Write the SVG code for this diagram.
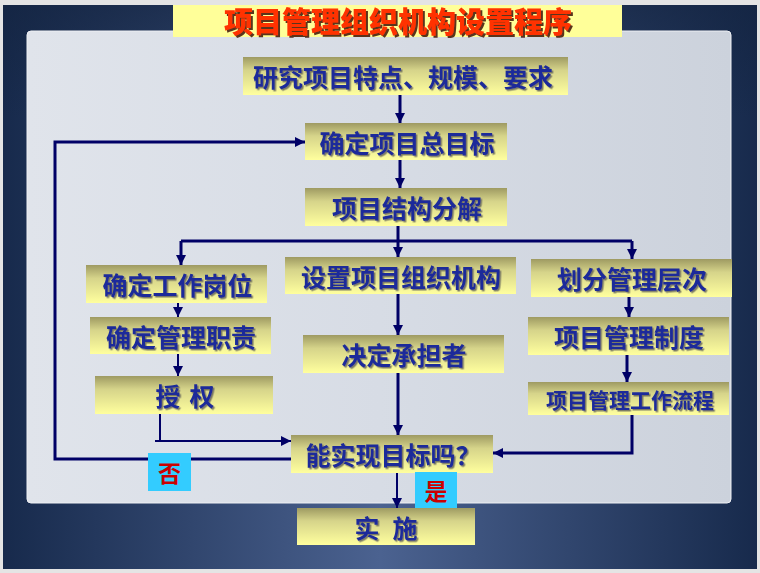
<svg xmlns="http://www.w3.org/2000/svg" width="760" height="573" viewBox="0 0 760 573">
<defs>
<linearGradient id="frame" x1="0" y1="0" x2="1" y2="0">
<stop offset="0" stop-color="#172a4c"/>
<stop offset="0.5" stop-color="#4b6290"/>
<stop offset="1" stop-color="#172a4c"/>
</linearGradient>
<linearGradient id="frameTop" x1="0" y1="0" x2="0" y2="1">
<stop offset="0" stop-color="#13233f" stop-opacity="0.6"/>
<stop offset="0.2" stop-color="#13233f" stop-opacity="0"/>
</linearGradient>
<linearGradient id="panel" x1="0" y1="0" x2="1" y2="0">
<stop offset="0" stop-color="#e0e4eb"/>
<stop offset="0.5" stop-color="#d7dce5"/>
<stop offset="1" stop-color="#ccd2dc"/>
</linearGradient>
<linearGradient id="box" x1="0" y1="0" x2="0" y2="1">
<stop offset="0" stop-color="#9e9a62"/>
<stop offset="0.35" stop-color="#d6d48a"/>
<stop offset="1" stop-color="#ffff9e"/>
</linearGradient>
<filter id="ts" x="-10%" y="-30%" width="120%" height="160%">
<feDropShadow dx="1.5" dy="1.5" stdDeviation="0.4" flood-color="#555555" flood-opacity="0.75"/>
</filter>
<filter id="tts" x="-10%" y="-30%" width="120%" height="160%">
<feDropShadow dx="2" dy="2" stdDeviation="0.5" flood-color="#4a1a08" flood-opacity="0.9"/>
</filter>
<marker id="ah" viewBox="0 0 10 10" refX="10" refY="5" markerWidth="10" markerHeight="10" markerUnits="userSpaceOnUse" orient="auto">
<path d="M0,0 L10,5 L0,10 z" fill="#000066"/>
</marker>
</defs>
<style>
.box{fill:url(#box);}
.t{font-family:"Noto Sans CJK SC","Noto Sans CJK JP",sans-serif;font-weight:bold;font-size:25px;text-anchor:middle;dominant-baseline:central;fill:#1a2a9a;filter:url(#ts);}
.c{fill:none;stroke:#000066;stroke-width:3;}
.thin{stroke-width:2;}
.lbl{fill:#33ccff;}
.lt{font-family:"Noto Sans CJK SC",sans-serif;font-weight:bold;font-size:23px;text-anchor:middle;dominant-baseline:central;fill:#cc0000;}
.title{font-family:"Noto Sans CJK SC",sans-serif;font-weight:900;font-size:29px;text-anchor:middle;dominant-baseline:central;fill:#ff3300;filter:url(#tts);}
</style>
<rect x="0" y="0" width="760" height="573" fill="#e4e4e4"/>
<rect x="3" y="5" width="754" height="564" fill="url(#frame)"/>
<rect x="3" y="5" width="754" height="564" fill="url(#frameTop)"/>
<rect x="27" y="31" width="704" height="472" rx="4" fill="url(#panel)" stroke="#eef0f4" stroke-width="1"/>

<g id="title">
<rect x="173" y="5" width="449" height="32" fill="#ffff99"/>
<text class="title" x="398" y="20">项目管理组织机构设置程序</text>
</g>

<g id="connectors">
<path class="c" d="M400,95 V123" marker-end="url(#ah)"/>
<path class="c" d="M400,160 V188" marker-end="url(#ah)"/>
<path class="c" d="M398,226 V257" marker-end="url(#ah)"/>
<path class="c" d="M181,241 H632"/>
<path class="c" d="M181,241 V265" marker-end="url(#ah)"/>
<path class="c" d="M632,241 V259" marker-end="url(#ah)"/>
<path class="c thin" d="M178,303 V317" marker-end="url(#ah)"/>
<path class="c thin" d="M178,354 V376" marker-end="url(#ah)"/>
<path class="c thin" d="M160,414 V441"/>
<path class="c thin" d="M155,441 H291" marker-end="url(#ah)"/>
<path class="c" d="M398,294 V335" marker-end="url(#ah)"/>
<path class="c" d="M398,373 V435" marker-end="url(#ah)"/>
<path class="c" d="M629,297 V317" marker-end="url(#ah)"/>
<path class="c" d="M627,355 V382" marker-end="url(#ah)"/>
<path class="c" d="M632,415 V453 H493" marker-end="url(#ah)"/>
<path class="c" d="M291,459 H55 V142 H305" marker-end="url(#ah)"/>
<path class="c thin" d="M397,473 V508" marker-end="url(#ah)"/>
</g>

<g id="n1">
<rect class="box" x="243" y="57" width="325" height="38"/>
<text class="t" x="403" y="76">研究项目特点、规模、要求</text>
</g>
<g id="n2">
<rect class="box" x="305" y="123" width="202" height="37"/>
<text class="t" x="407" y="141.5">确定项目总目标</text>
</g>
<g id="n3">
<rect class="box" x="305" y="188" width="202" height="38"/>
<text class="t" x="407" y="207">项目结构分解</text>
</g>
<g id="n4">
<rect class="box" x="86" y="265" width="181" height="38"/>
<text class="t" x="177.5" y="284">确定工作岗位</text>
</g>
<g id="n5">
<rect class="box" x="285" y="257" width="231" height="37"/>
<text class="t" x="401" y="275.5">设置项目组织机构</text>
</g>
<g id="n6">
<rect class="box" x="531" y="259" width="201" height="38"/>
<text class="t" x="632" y="278">划分管理层次</text>
</g>
<g id="n7">
<rect class="box" x="90" y="317" width="181" height="37"/>
<text class="t" x="181" y="335.5">确定管理职责</text>
</g>
<g id="n8">
<rect class="box" x="95" y="376" width="178" height="38"/>
<text class="t" y="395"><tspan x="168">授</tspan><tspan x="202">权</tspan></text>
</g>
<g id="n9">
<rect class="box" x="303" y="335" width="201" height="38"/>
<text class="t" x="404" y="354">决定承担者</text>
</g>
<g id="n10">
<rect class="box" x="528" y="317" width="201" height="38"/>
<text class="t" x="629" y="336">项目管理制度</text>
</g>
<g id="n11">
<rect class="box" x="528" y="382" width="201" height="33"/>
<text class="t" x="630" y="398.5" style="font-size:21px">项目管理工作流程</text>
</g>
<g id="n12">
<rect class="box" x="291" y="435" width="202" height="38"/>
<text class="t" x="393" y="454">能实现目标吗？</text>
</g>
<g id="n13">
<rect class="box" x="297" y="508" width="178" height="37"/>
<text class="t" y="526.5"><tspan x="367">实</tspan><tspan x="405">施</tspan></text>
</g>

<g id="no">
<rect class="lbl" x="148" y="453" width="43" height="38"/>
<text class="lt" x="169.5" y="472">否</text>
</g>
<g id="yes">
<rect class="lbl" x="415" y="472" width="42" height="36"/>
<text class="lt" x="436" y="490">是</text>
</g>
</svg>
